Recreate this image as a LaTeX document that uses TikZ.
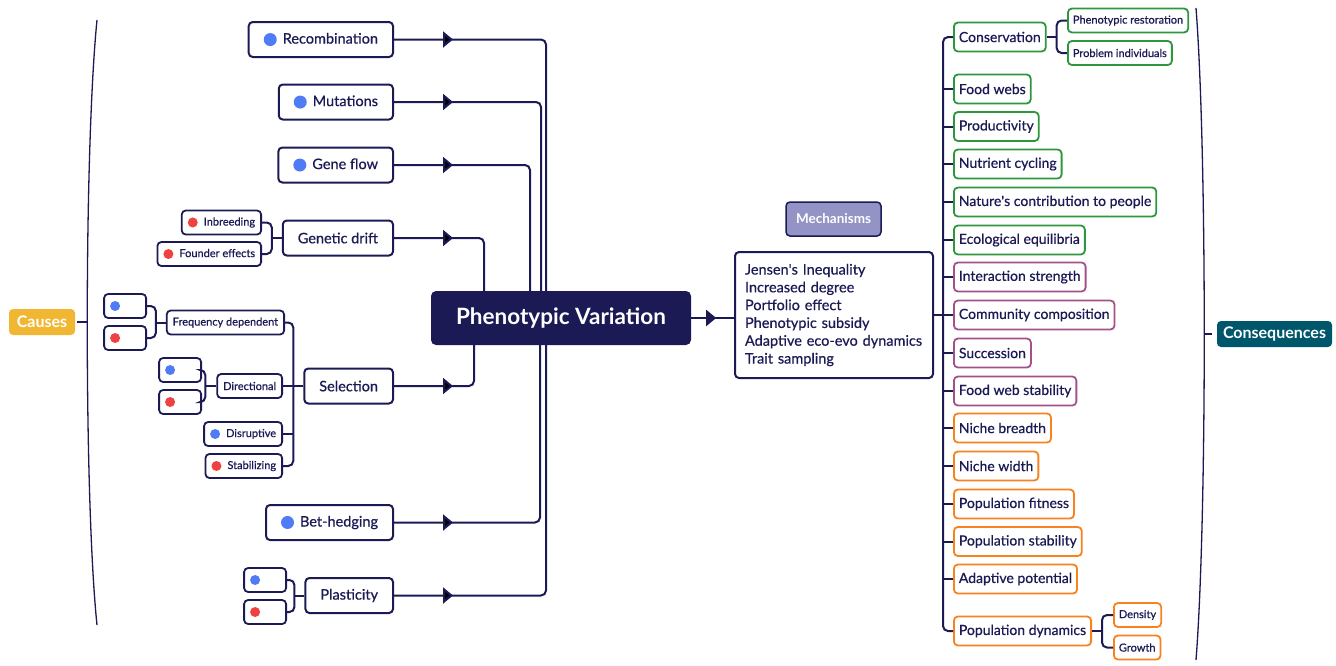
\documentclass[tikz,border=0pt]{standalone}
\usepackage{fontspec}
\setmainfont{Lato}[UprightFeatures={RawFeature={embolden=0.6}}]
\usepackage{xcolor}
\usetikzlibrary{arrows.meta,calc,decorations.markings}
\definecolor{navy}{HTML}{1B1A55}
\definecolor{dotblue}{HTML}{4F7CF5}
\definecolor{dotred}{HTML}{EF4141}
\definecolor{consgreen}{HTML}{2E963C}
\definecolor{conspink}{HTML}{A6508A}
\definecolor{consorange}{HTML}{F7821E}
\definecolor{causegold}{HTML}{F2B732}
\definecolor{consteal}{HTML}{00566A}
\definecolor{mechlav}{HTML}{9393C6}
\newcommand{\pdot}[2]{\tikz[baseline=-0.55ex]\fill[#1] (0,0) circle (#2);}

\begin{document}
\begin{tikzpicture}[x=1pt,y=-1pt,
  box/.style={draw=navy,line width=2pt,rounded corners=4pt,fill=white,text=navy,
    font=\fontsize{14.5}{16}\selectfont,minimum height=35pt,inner xsep=15pt,anchor=east},
  sbox/.style={draw=navy,line width=1.8pt,rounded corners=4pt,fill=white,text=navy,
    font=\fontsize{11}{12}\selectfont,minimum height=24pt,inner xsep=6pt,anchor=east},
  ebox/.style={sbox,minimum width=42pt,text width=30pt},
  cbox/.style={draw=#1,line width=1.8pt,rounded corners=4pt,fill=white,text=navy,
    font=\fontsize{14}{16}\selectfont,minimum height=29pt,inner xsep=5pt,anchor=west},
  csub/.style={cbox=#1,font=\fontsize{11}{12}\selectfont,minimum height=24pt},
  tag/.style={rounded corners=4pt,text=white,font=\bfseries\fontsize{16}{18}\selectfont,minimum height=26pt},
  link/.style={draw=navy,line width=2pt,rounded corners=5pt},
  brace/.style={draw=navy,line width=1.3pt},
  tipmark/.style={postaction={decorate,decoration={markings,
    mark=at position #1 with {\arrow{Triangle[length=10pt,width=16pt]}}}}}]
  \useasboundingbox (0,0) rectangle (1336,665);

  % centre and mechanisms
  \node[fill=navy,rounded corners=5pt,minimum width=260pt,minimum height=54pt,
    text=white,font=\bfseries\fontsize{22.5}{24}\selectfont] (pv) at (561,318) {Phenotypic Variation};
  \node[tag,fill=mechlav,draw=navy,line width=1.5pt,minimum width=95pt,minimum height=34pt,
    font=\bfseries\fontsize{13.5}{15}\selectfont] (mlab) at (833.5,219) {Mechanisms};
  \node[draw=navy,line width=2pt,rounded corners=4pt,text=navy,align=left,text width=178pt,
    inner xsep=10pt,minimum height=126pt,font=\fontsize{14.5}{17.8}\selectfont] (mech) at (834,315)
    {Jensen\textquotesingle s Inequality\\Increased degree\\Portfolio effect\\Phenotypic subsidy\\
     Adaptive eco-evo dynamics\\Trait sampling};
  \draw[link,tipmark=25pt] (pv.east) -- (pv.east -| mech.west);

  % causes
  \node[box] (rec) at (394,39.5) {\pdot{dotblue}{6.5pt}\hspace{6pt}Recombination};
  \node[box] (mut) at (394,102) {\pdot{dotblue}{6.5pt}\hspace{6pt}Mutations};
  \node[box] (gf) at (394,165) {\pdot{dotblue}{6.5pt}\hspace{6pt}Gene flow};
  \node[box] (gd) at (394,238) {Genetic drift};
  \node[box] (sel) at (394,386) {Selection};
  \node[box] (bh) at (394,522.5) {\pdot{dotblue}{6.5pt}\hspace{6pt}Bet-hedging};
  \node[box] (pl) at (394,595.5) {Plasticity};

  \draw[link,tipmark=59pt] (rec.east) -| ([xshift=-15pt]pv.north);
  \draw[link,tipmark=59pt] (mut.east) -| ([xshift=-20pt]pv.north);
  \draw[link,tipmark=59pt] (gf.east) -| ([xshift=-31pt]pv.north);
  \draw[link,tipmark=59pt] (gd.east) -| ([xshift=-77pt]pv.north);
  \draw[link,tipmark=59pt] (sel.east) -| ([xshift=-87pt]pv.south);
  \draw[link,tipmark=59pt] (bh.east) -| ([xshift=-21pt]pv.south);
  \draw[link,tipmark=59pt] (pl.east) -| ([xshift=-15pt]pv.south);

  \node[sbox] (inb) at (262,222.5) {\pdot{dotred}{5pt}\hspace{6pt}Inbreeding};
  \node[sbox] (fe) at (262,254) {\pdot{dotred}{5pt}\hspace{6pt}Founder effects};
  \coordinate (gdj) at ([xshift=-10pt]gd.west);
  \draw[link] (inb.east) -| (gdj |- fe.east) -- (fe.east);
  \draw[link] (gd.west) -- (gdj);

  \node[sbox] (fd) at (285,322.5) {Frequency dependent};
  \node[ebox] (fdb) at (147,306) {\pdot{dotblue}{5pt}};
  \node[ebox] (fdr) at (147,338) {\pdot{dotred}{5pt}};
  \node[sbox] (dir) at (283,386) {Directional};
  \node[ebox] (dirb) at (202,370) {\pdot{dotblue}{5pt}};
  \node[ebox] (dirr) at (202,402) {\pdot{dotred}{5pt}};
  \node[sbox] (dis) at (283,434) {\pdot{dotblue}{5pt}\hspace{6pt}Disruptive};
  \node[sbox] (stab) at (283,466) {\pdot{dotred}{5pt}\hspace{6pt}Stabilizing};
  \coordinate (selj) at ([xshift=-10pt]sel.west);
  \draw[link] (fd.east) -| (selj |- stab.east) -- (stab.east);
  \foreach \n in {dir,dis} \draw[link] (\n.east) -- (\n.east -| selj);
  \draw[link] (sel.west) -- (selj);
  \coordinate (fdj) at ([xshift=-10pt]fd.west);
  \draw[link] (fdb.east) -| (fdj |- fdr.east) -- (fdr.east);
  \draw[link] (fd.west) -- (fdj);
  \coordinate (dirj) at ([xshift=-11pt]dir.west);
  \draw[link] (dirb.east) -| (dirj |- dirr.east) -- (dirr.east);
  \draw[link] (dir.west) -- (dirj);

  \node[ebox] (plb) at (287,580) {\pdot{dotblue}{5pt}};
  \node[ebox] (plr) at (287,612) {\pdot{dotred}{5pt}};
  \coordinate (plj) at ([xshift=-10pt]pl.west);
  \draw[link] (plb.east) -| (plj |- plr.east) -- (plr.east);
  \draw[link] (pl.west) -- (plj);

  \node[tag,fill=causegold,minimum width=66pt] (causes) at (42,322) {Causes};
  \coordinate (lb) at (87,322);
  \draw[brace] (97,20) .. controls (84,150) and (84,500) .. (97,625);
  \draw[brace] ([xshift=2pt]causes.east) -- (lb);

  % consequences
  \foreach \n/\y/\c/\t in {cons/37/consgreen/Conservation, fw/89/consgreen/Food webs,
    prod/126.5/consgreen/Productivity, nut/164/consgreen/Nutrient cycling,
    ncp/202/consgreen/Nature\textquotesingle s contribution to people, eq/240/consgreen/Ecological equilibria,
    is/277/conspink/Interaction strength, cc/315/conspink/Community composition,
    succ/353/conspink/Succession, fws/391/conspink/Food web stability,
    nb/428/consorange/Niche breadth, nw/466/consorange/Niche width,
    pf/504/consorange/Population fitness, ps/541.5/consorange/Population stability,
    ap/579/consorange/Adaptive potential, pdyn/631/consorange/Population dynamics}
    \node[cbox=\c] (\n) at (953,\y) {\t};

  \coordinate (rj) at (943,315);
  \draw[link] (mech.east) -- (rj);
  \draw[link] (cons.west) -| (rj |- pdyn.west) -- (pdyn.west);
  \foreach \n in {fw,prod,nut,ncp,eq,is,cc,succ,fws,nb,nw,pf,ps,ap}
    \draw[link] (\n.west) -- (\n.west -| rj);

  \node[csub=consgreen] (phr) at (1067,20.5) {Phenotypic restoration};
  \node[csub=consgreen] (pri) at (1067,53) {Problem individuals};
  \coordinate (consj) at ([xshift=10pt]cons.east);
  \draw[link] (phr.west) -| (consj |- pri.west) -- (pri.west);
  \draw[link] (cons.east) -- (consj);
  \node[csub=consorange] (dens) at (1113,615) {Density};
  \node[csub=consorange] (grow) at (1113,647.5) {Growth};
  \coordinate (pdynj) at ([xshift=10pt]pdyn.east);
  \draw[link] (dens.west) -| (pdynj |- grow.west) -- (grow.west);
  \draw[link] (pdyn.east) -- (pdynj);

  \node[tag,fill=consteal,minimum width=115pt] (conseq) at (1274.5,334) {Consequences};
  \coordinate (rb) at (1204,334);
  \draw[brace] (1196,8) .. controls (1207,150) and (1207,520) .. (1196,660);
  \draw[brace] (rb) -- ([xshift=-5pt]conseq.west);
\end{tikzpicture}
\end{document}
